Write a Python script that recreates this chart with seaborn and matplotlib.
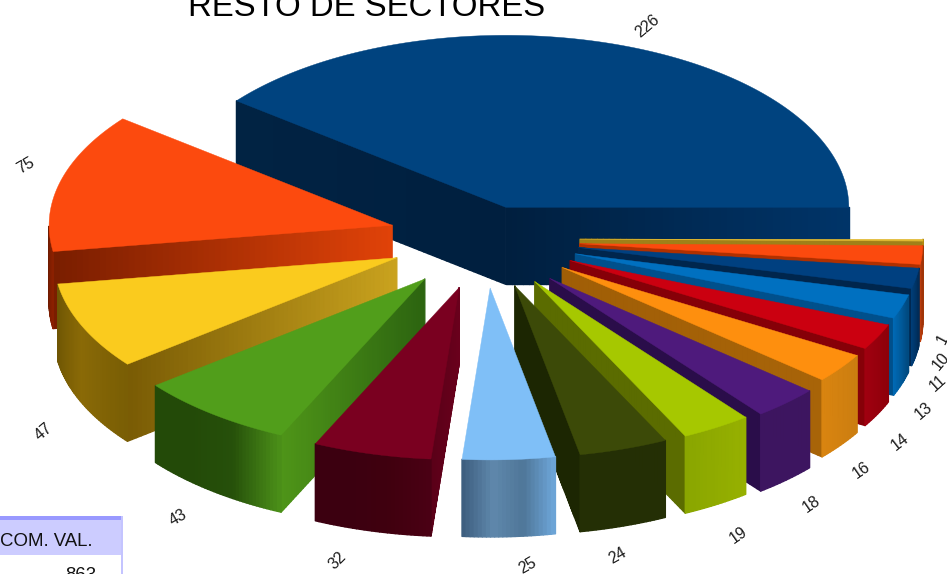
import numpy as np
import matplotlib
matplotlib.use("Agg")
import matplotlib.pyplot as plt
from matplotlib.collections import PolyCollection
from matplotlib.colors import to_rgb
from matplotlib.patches import Rectangle
import seaborn as sns

# ---- data
values = [226, 75, 47, 43, 32, 25, 24, 19, 18, 16, 14, 13, 11, 10, 1]
labels = [str(v) for v in values]
title = "RESTO DE SECTORES"
table_header = "COM. VAL."
table_value = "863"

# ---- styles
top_colors = ["#00437F", "#FC4A0E", "#FACB1E", "#519E1B", "#7A0020", "#7FBFF7", "#3C4A08",
              "#A6C800", "#4E1A7C", "#FE8F0E", "#CB0010", "#0070C0", "#004080", "#FB4A0E", "#E0B830"]
# outer rim colour stops, from low angle to high angle
rim_colors = [["#002A55", "#003F78"], ["#6A1A00", "#8A2000"], ["#6E5504", "#8A6A06", "#7A5E05"],
              ["#234A08", "#234A08", "#26500A", "#4A8E18"], ["#3C0010", "#3C0010", "#40000F", "#4A0014"],
              ["#3E5F80", "#5F88AC", "#4F7698", "#6CA4D6"], ["#242F05", "#242F05"],
              ["#8AA600", "#96B000"], ["#3D1560", "#3D1560"], ["#D98410", "#CC7E10"],
              ["#A00010", "#8E000A"], ["#0069B4", "#004A80"], ["#003E78", "#002C58"],
              ["#C0400F", "#A03408"], ["#C09820", "#B08810"]]
# cut wall at the start angle / end angle, colour stops from apex to rim
start_wall = [["#001F3F", "#003468"], ["#5A1500", "#5A1500"], ["#C9A21E", "#C9A21E"], ["#2C6410", "#2C6410"],
              ["#5A0018", "#5A0018"], ["#5F88AC", "#5F88AC"], ["#1C2602", "#1C2602"],
              ["#5B6C00", "#5B6C00"], ["#2A0D4A", "#2A0D4A"], ["#A05E06", "#A86408"], ["#860008", "#860008"],
              ["#00508C", "#00508C"], ["#00264D", "#00264D"], ["#B03000", "#B03000"], ["#A08018", "#A08018"]]
end_wall = [["#001F3F", "#012343"], ["#E04208", "#7A1E00"], ["#C9A21E", "#7A5C05"], ["#2C6410", "#4E9418"],
            ["#6A001C", "#5A0018"], ["#5F88AC", "#6CA4D6"], ["#242F05", "#242F05"], ["#8AA600", "#96B000"],
            ["#3D1560", "#3D1560"], ["#D98410", "#D98410"], ["#A00010", "#A00010"], ["#0069B4", "#0069B4"],
            ["#003E78", "#003E78"], ["#C0400F", "#C0400F"], ["#C09820", "#C09820"]]
apex_nudge = [(-11, 1), (-3, -10), (-3, -5), (-3, 0), (-3, 1), (-1, 0), (-1, 0),
              (-1, 0), (-1, 2), (0, -3), (0, -4), (0, -5), (0, -6), (0, -5), (0, -7)]
label_style = [(647, 26, 40), (26, 166, 30), (44, 432, 40), (178, 518, 30), (338, 561, 45),
               (528, 566, 30), (618, 556, 30), (738, 535, 35), (811, 504, 35), (861, 470, 35),
               (900, 442, 38), (924, 411, 40), (938, 383, 42), (941, 361, 50), (943, 339, 62)]

RX, RY, DEPTH = 343, 172, 77          # pie radii and thickness, in pixels
CX, CY, EX, EY = 486, 246, 94, 42     # explosion ellipse

sns.set_theme(style="white")
plt.rcParams["font.family"] = ["Liberation Sans", "DejaVu Sans"]
fig = plt.figure(figsize=(9.47, 5.74), dpi=100)
ax = fig.add_axes([0, 0, 1, 1])
ax.set_xlim(0, 947)
ax.set_ylim(574, 0)
ax.axis("off")


def lerp(stops, n):
    s = np.array([to_rgb(c) for c in stops])
    t = np.linspace(0, 1, n)
    k = np.linspace(0, 1, len(s))
    return np.column_stack([np.interp(t, k, s[:, i]) for i in range(3)])


def band(p_top, zorder, stops):
    """A vertical wall hanging below a polyline, shaded along the polyline."""
    n = len(p_top) - 1
    cols = lerp(stops, n)
    quads = [[p_top[i], p_top[i + 1], p_top[i + 1] + (0, DEPTH), p_top[i] + (0, DEPTH)] for i in range(n)]
    ax.add_collection(PolyCollection(quads, facecolors=cols, edgecolors=cols, linewidths=1.0, zorder=zorder))


total = sum(values)
edges = np.cumsum([0] + values) / total * 2 * np.pi
apexes = []
for i in range(len(values)):
    mid = (edges[i] + edges[i + 1]) / 2
    apexes.append((CX + EX * np.cos(mid) + apex_nudge[i][0], CY - EY * np.sin(mid) + apex_nudge[i][1]))

order = np.argsort([a[1] for a in apexes])
for z, i in enumerate(order):
    a0, a1 = edges[i], edges[i + 1]
    apex = np.array(apexes[i])
    th = np.linspace(a0, a1, max(6, int((a1 - a0) * 90)))
    arc = apex + np.column_stack([RX * np.cos(th), -RY * np.sin(th)])
    base = z * 10
    s = np.linspace(0, 1, 60)[:, None]
    # only the faces turned towards the viewer are painted
    if np.cos(a0) > 0:
        band(apex + s * (arc[0] - apex), base + 1, start_wall[i])
    if np.cos(a1) < 0:
        band(apex + s * (arc[-1] - apex), base + 2, end_wall[i])
    front = np.sin(th) < 1e-9
    if front.sum() > 1:
        band(arc[front], base + 3, rim_colors[i])
    ax.fill(*np.vstack([apex, arc]).T, color=top_colors[i], lw=0.3, zorder=base + 4)

for lab, (x, y, r) in zip(labels, label_style):
    ax.text(x, y, lab, fontsize=11.5, rotation=r, ha="center", va="center", color="#1c1c1c", zorder=500)

ax.text(367, 16, title, fontsize=23.7, ha="center", va="baseline", color="black", zorder=500)

# table fragment
ax.add_patch(Rectangle((0, 516), 122, 39, fc="#CCCCFF", ec="none", zorder=400))
ax.add_patch(Rectangle((0, 516), 123, 3.5, fc="#9999FF", ec="none", zorder=401))
ax.add_patch(Rectangle((120.5, 516), 2.5, 58, fc="#C4C4FF", ec="none", zorder=401))
ax.text(92, 546, table_header, fontsize=13.4, ha="right", va="baseline", color="#111111", zorder=402)
ax.text(96, 580, table_value, fontsize=13.4, ha="right", va="baseline", color="#111111", zorder=402)

sns.despine(ax=ax, left=True, bottom=True)
fig.savefig("out.png", dpi=100)
